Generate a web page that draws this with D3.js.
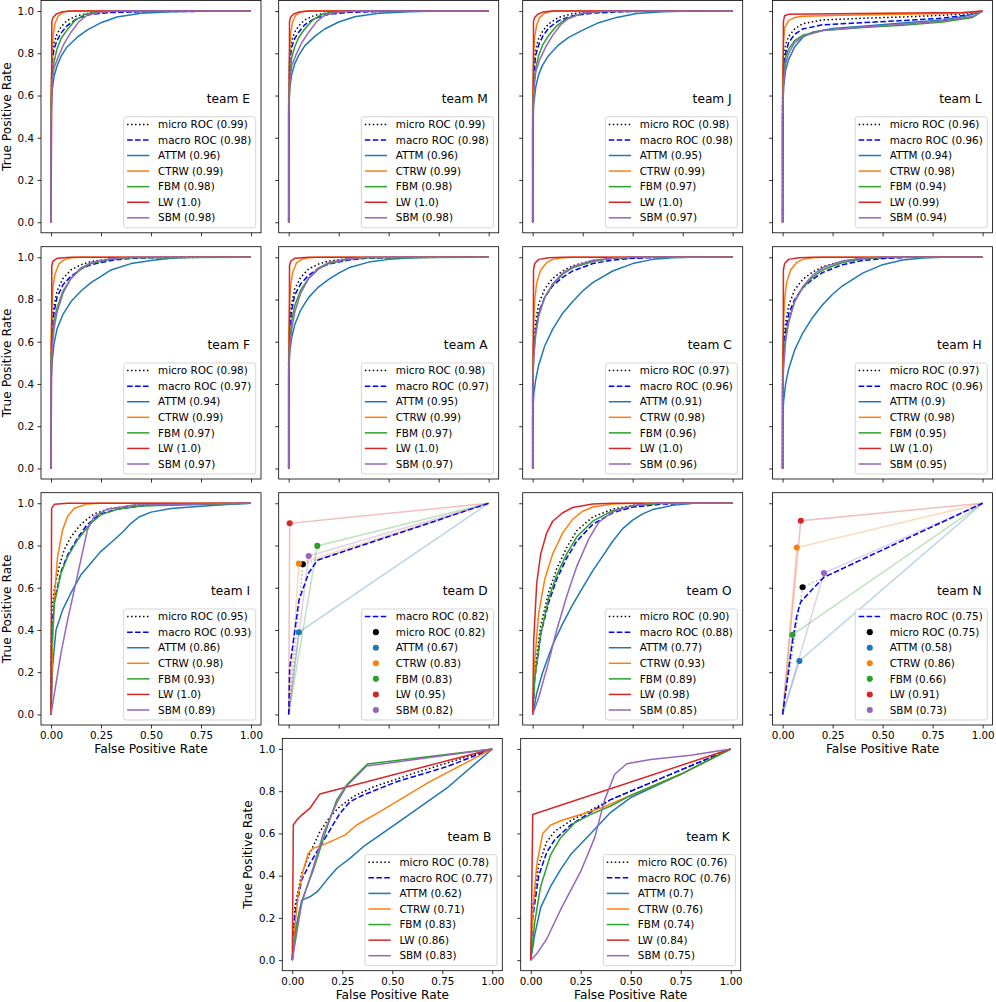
<!DOCTYPE html>
<html>
<head>
<meta charset="utf-8">
<script src="https://cdnjs.cloudflare.com/ajax/libs/d3/7.8.5/d3.min.js"></script>
<style>
  body { margin: 0; background: #fff; }
  text { font-family: "DejaVu Sans", sans-serif; }
</style>
</head>
<body>
<div id="chart"></div>
<script>
// classes and colours
var classes = ["ATTM", "CTRW", "FBM", "LW", "SBM"];
var classColors = ["#1f77b4", "#ff7f0e", "#2ca02c", "#d62728", "#9467bd"];
var xTicks = [0, 0.25, 0.5, 0.75, 1];
var yTicks = [0, 0.2, 0.4, 0.6, 0.8, 1];

// AUC values, order: micro, macro, ATTM, CTRW, FBM, LW, SBM
var aucE = [0.99, 0.98, 0.96, 0.99, 0.98, 1.0, 0.98];
var aucM = [0.99, 0.98, 0.96, 0.99, 0.98, 1.0, 0.98];
var aucJ = [0.98, 0.98, 0.95, 0.99, 0.97, 1.0, 0.97];
var aucL = [0.96, 0.96, 0.94, 0.98, 0.94, 0.99, 0.94];
var aucF = [0.98, 0.97, 0.94, 0.99, 0.97, 1.0, 0.97];
var aucA = [0.98, 0.97, 0.95, 0.99, 0.97, 1.0, 0.97];
var aucC = [0.97, 0.96, 0.91, 0.98, 0.96, 1.0, 0.96];
var aucH = [0.97, 0.96, 0.9, 0.98, 0.95, 1.0, 0.95];
var aucI = [0.95, 0.93, 0.86, 0.98, 0.93, 1.0, 0.89];
var aucD = [0.82, 0.82, 0.67, 0.83, 0.83, 0.95, 0.82];
var aucO = [0.90, 0.88, 0.77, 0.93, 0.89, 0.98, 0.85];
var aucN = [0.75, 0.75, 0.58, 0.86, 0.66, 0.91, 0.73];
var aucB = [0.78, 0.77, 0.62, 0.71, 0.83, 0.86, 0.83];
var aucK = [0.76, 0.76, 0.7, 0.76, 0.74, 0.84, 0.75];

// ROC curves [fpr, tpr], order: micro, macro, ATTM, CTRW, FBM, LW, SBM
var rocE = [
  [[0,0],[0,0.55],[0.005,0.78],[0.015,0.85],[0.03,0.89],[0.05,0.925],[0.08,0.955],[0.13,0.978],[0.2,0.992],[0.3,0.998],[1,1]],
  [[0,0],[0,0.5],[0.005,0.75],[0.015,0.82],[0.03,0.86],[0.05,0.895],[0.08,0.93],[0.13,0.965],[0.2,0.985],[0.3,0.993],[0.45,0.997],[1,1]],
  [[0,0],[0,0.5],[0.005,0.62],[0.015,0.69],[0.03,0.74],[0.05,0.785],[0.08,0.83],[0.13,0.875],[0.18,0.91],[0.25,0.945],[0.33,0.972],[0.45,0.99],[0.6,0.997],[0.75,1],[1,1]],
  [[0,0],[0,0.6],[0.005,0.8],[0.01,0.88],[0.02,0.94],[0.035,0.975],[0.06,0.995],[0.09,1],[1,1]],
  [[0,0],[0,0.55],[0.005,0.68],[0.015,0.76],[0.03,0.82],[0.05,0.87],[0.08,0.91],[0.12,0.955],[0.17,0.985],[0.25,0.998],[0.35,1],[1,1]],
  [[0,0],[0.003,0.5],[0.004,0.95],[0.01,0.97],[0.025,0.985],[0.05,0.995],[0.1,1],[1,1]],
  [[0,0],[0,0.45],[0.005,0.66],[0.015,0.73],[0.035,0.78],[0.065,0.845],[0.1,0.9],[0.14,0.95],[0.18,0.98],[0.25,0.996],[0.35,1],[1,1]]
];
var rocM = [
  [[0,0],[0,0.6],[0.005,0.79],[0.015,0.86],[0.03,0.9],[0.05,0.93],[0.08,0.958],[0.13,0.98],[0.2,0.993],[0.3,0.998],[1,1]],
  [[0,0],[0,0.55],[0.005,0.76],[0.015,0.83],[0.03,0.87],[0.05,0.9],[0.08,0.935],[0.13,0.965],[0.2,0.985],[0.3,0.994],[0.45,0.998],[1,1]],
  [[0,0],[0,0.52],[0.005,0.63],[0.015,0.7],[0.03,0.75],[0.05,0.79],[0.08,0.835],[0.13,0.88],[0.18,0.915],[0.25,0.948],[0.33,0.973],[0.45,0.99],[0.6,0.997],[0.75,1],[1,1]],
  [[0,0],[0,0.62],[0.005,0.82],[0.01,0.9],[0.02,0.95],[0.035,0.98],[0.06,0.996],[0.09,1],[1,1]],
  [[0,0],[0,0.56],[0.005,0.7],[0.015,0.78],[0.03,0.83],[0.05,0.875],[0.08,0.915],[0.12,0.958],[0.17,0.986],[0.25,0.998],[0.35,1],[1,1]],
  [[0,0],[0.003,0.5],[0.004,0.95],[0.01,0.972],[0.025,0.986],[0.05,0.995],[0.1,1],[1,1]],
  [[0,0],[0,0.5],[0.005,0.66],[0.015,0.74],[0.035,0.79],[0.065,0.85],[0.1,0.9],[0.14,0.95],[0.18,0.98],[0.25,0.996],[0.35,1],[1,1]]
];
var rocJ = [
  [[0,0],[0,0.55],[0.005,0.74],[0.015,0.82],[0.03,0.87],[0.05,0.905],[0.08,0.94],[0.13,0.97],[0.2,0.988],[0.3,0.996],[0.45,1],[1,1]],
  [[0,0],[0,0.5],[0.005,0.7],[0.015,0.79],[0.03,0.84],[0.05,0.88],[0.08,0.92],[0.13,0.955],[0.2,0.978],[0.3,0.99],[0.45,0.997],[0.6,1],[1,1]],
  [[0,0],[0,0.45],[0.005,0.56],[0.015,0.64],[0.03,0.7],[0.05,0.745],[0.08,0.79],[0.13,0.84],[0.18,0.875],[0.25,0.91],[0.33,0.945],[0.42,0.97],[0.52,0.988],[0.65,0.997],[0.8,1],[1,1]],
  [[0,0],[0,0.6],[0.005,0.8],[0.01,0.88],[0.02,0.935],[0.035,0.97],[0.06,0.99],[0.1,1],[1,1]],
  [[0,0],[0,0.5],[0.005,0.64],[0.015,0.73],[0.03,0.79],[0.05,0.84],[0.08,0.885],[0.12,0.93],[0.17,0.965],[0.25,0.99],[0.35,0.998],[1,1]],
  [[0,0],[0.003,0.5],[0.004,0.95],[0.01,0.97],[0.025,0.985],[0.05,0.995],[0.1,1],[1,1]],
  [[0,0],[0,0.45],[0.005,0.62],[0.015,0.71],[0.035,0.77],[0.065,0.83],[0.1,0.885],[0.14,0.935],[0.18,0.965],[0.25,0.99],[0.35,0.999],[1,1]]
];
var rocL = [
  [[0,0],[0,0.6],[0.005,0.76],[0.015,0.84],[0.03,0.88],[0.06,0.915],[0.1,0.94],[0.2,0.958],[0.4,0.966],[0.6,0.972],[0.8,0.98],[0.95,0.99],[1,1]],
  [[0,0],[0,0.55],[0.005,0.72],[0.015,0.8],[0.03,0.85],[0.06,0.89],[0.1,0.915],[0.2,0.935],[0.4,0.945],[0.6,0.955],[0.8,0.966],[0.95,0.985],[1,1]],
  [[0,0],[0,0.5],[0.005,0.64],[0.015,0.72],[0.03,0.77],[0.06,0.83],[0.1,0.875],[0.15,0.9],[0.25,0.918],[0.4,0.928],[0.6,0.943],[0.8,0.958],[0.9,0.973],[1,1]],
  [[0,0],[0,0.7],[0.005,0.86],[0.01,0.92],[0.03,0.955],[0.06,0.97],[0.1,0.975],[0.3,0.98],[0.6,0.985],[0.9,0.99],[1,1]],
  [[0,0],[0,0.55],[0.005,0.7],[0.015,0.78],[0.03,0.82],[0.06,0.86],[0.1,0.885],[0.2,0.908],[0.4,0.922],[0.6,0.933],[0.8,0.948],[0.95,0.97],[1,1]],
  [[0,0],[0.003,0.5],[0.004,0.95],[0.01,0.978],[0.03,0.985],[0.5,0.99],[0.9,0.993],[1,1]],
  [[0,0],[0,0.5],[0.005,0.66],[0.015,0.75],[0.03,0.8],[0.06,0.85],[0.1,0.88],[0.2,0.908],[0.4,0.924],[0.6,0.938],[0.8,0.953],[0.95,0.975],[1,1]]
];
var rocF = [
  [[0,0],[0,0.55],[0.005,0.68],[0.015,0.77],[0.03,0.84],[0.06,0.9],[0.1,0.94],[0.15,0.965],[0.2,0.98],[0.3,0.993],[0.5,0.999],[1,1]],
  [[0,0],[0,0.5],[0.005,0.65],[0.015,0.74],[0.03,0.81],[0.06,0.87],[0.1,0.91],[0.15,0.945],[0.2,0.965],[0.3,0.985],[0.4,0.995],[0.6,1],[1,1]],
  [[0,0],[0,0.4],[0.005,0.5],[0.015,0.59],[0.03,0.66],[0.06,0.73],[0.1,0.79],[0.15,0.84],[0.2,0.88],[0.25,0.91],[0.3,0.94],[0.4,0.97],[0.5,0.985],[0.6,0.995],[0.7,1],[1,1]],
  [[0,0],[0,0.6],[0.005,0.78],[0.01,0.86],[0.02,0.92],[0.04,0.97],[0.07,0.99],[0.1,0.998],[0.15,1],[1,1]],
  [[0,0],[0,0.5],[0.005,0.6],[0.015,0.7],[0.03,0.76],[0.06,0.84],[0.1,0.9],[0.15,0.945],[0.2,0.97],[0.3,0.99],[0.4,0.998],[1,1]],
  [[0,0],[0.003,0.5],[0.004,0.96],[0.01,0.982],[0.03,0.995],[0.1,1],[1,1]],
  [[0,0],[0,0.45],[0.005,0.56],[0.015,0.66],[0.03,0.74],[0.06,0.83],[0.1,0.9],[0.15,0.95],[0.2,0.975],[0.3,0.993],[0.4,1],[1,1]]
];
var rocA = [
  [[0,0],[0,0.55],[0.005,0.7],[0.015,0.78],[0.03,0.85],[0.06,0.905],[0.1,0.945],[0.15,0.968],[0.2,0.982],[0.3,0.994],[0.5,0.999],[1,1]],
  [[0,0],[0,0.5],[0.005,0.66],[0.015,0.75],[0.03,0.82],[0.06,0.875],[0.1,0.915],[0.15,0.948],[0.2,0.968],[0.3,0.987],[0.4,0.996],[0.6,1],[1,1]],
  [[0,0],[0,0.45],[0.005,0.55],[0.015,0.62],[0.03,0.68],[0.06,0.75],[0.1,0.81],[0.15,0.86],[0.2,0.895],[0.25,0.925],[0.3,0.95],[0.4,0.977],[0.5,0.99],[0.6,0.997],[0.7,1],[1,1]],
  [[0,0],[0,0.62],[0.005,0.8],[0.01,0.87],[0.02,0.93],[0.04,0.975],[0.07,0.992],[0.1,0.998],[0.15,1],[1,1]],
  [[0,0],[0,0.5],[0.005,0.61],[0.015,0.7],[0.03,0.77],[0.06,0.845],[0.1,0.9],[0.15,0.945],[0.2,0.97],[0.3,0.99],[0.4,0.998],[1,1]],
  [[0,0],[0.003,0.5],[0.004,0.96],[0.01,0.982],[0.03,0.995],[0.1,1],[1,1]],
  [[0,0],[0,0.45],[0.005,0.57],[0.015,0.66],[0.03,0.74],[0.06,0.83],[0.1,0.9],[0.15,0.95],[0.2,0.975],[0.3,0.993],[0.4,1],[1,1]]
];
var rocC = [
  [[0,0],[0,0.45],[0.005,0.6],[0.015,0.7],[0.03,0.78],[0.06,0.85],[0.1,0.9],[0.15,0.935],[0.2,0.96],[0.3,0.985],[0.4,0.995],[0.6,1],[1,1]],
  [[0,0],[0,0.4],[0.005,0.56],[0.015,0.66],[0.03,0.74],[0.06,0.81],[0.1,0.865],[0.15,0.905],[0.2,0.935],[0.3,0.97],[0.4,0.987],[0.5,0.995],[0.65,1],[1,1]],
  [[0,0],[0,0.25],[0.005,0.35],[0.015,0.42],[0.03,0.49],[0.06,0.58],[0.1,0.66],[0.15,0.735],[0.2,0.79],[0.25,0.84],[0.3,0.88],[0.4,0.935],[0.5,0.97],[0.6,0.99],[0.7,0.998],[0.8,1],[1,1]],
  [[0,0],[0,0.5],[0.005,0.7],[0.01,0.8],[0.02,0.88],[0.04,0.94],[0.07,0.975],[0.1,0.99],[0.15,0.998],[0.2,1],[1,1]],
  [[0,0],[0,0.4],[0.005,0.55],[0.015,0.65],[0.03,0.73],[0.06,0.81],[0.1,0.87],[0.15,0.92],[0.2,0.95],[0.3,0.98],[0.4,0.995],[0.5,1],[1,1]],
  [[0,0],[0.003,0.5],[0.004,0.94],[0.01,0.97],[0.03,0.99],[0.08,0.998],[0.15,1],[1,1]],
  [[0,0],[0,0.35],[0.005,0.52],[0.015,0.63],[0.03,0.72],[0.06,0.81],[0.1,0.875],[0.15,0.925],[0.2,0.955],[0.3,0.985],[0.4,0.997],[0.5,1],[1,1]]
];
var rocH = [
  [[0,0],[0,0.45],[0.005,0.6],[0.015,0.69],[0.03,0.77],[0.06,0.845],[0.1,0.895],[0.15,0.93],[0.2,0.955],[0.3,0.982],[0.4,0.994],[0.6,1],[1,1]],
  [[0,0],[0,0.4],[0.005,0.55],[0.015,0.65],[0.03,0.73],[0.06,0.8],[0.1,0.855],[0.15,0.895],[0.2,0.928],[0.3,0.965],[0.4,0.985],[0.5,0.994],[0.65,1],[1,1]],
  [[0,0],[0,0.22],[0.005,0.32],[0.015,0.4],[0.03,0.47],[0.06,0.56],[0.1,0.64],[0.15,0.715],[0.2,0.775],[0.25,0.825],[0.3,0.865],[0.4,0.925],[0.5,0.965],[0.6,0.987],[0.7,0.997],[0.8,1],[1,1]],
  [[0,0],[0,0.5],[0.005,0.7],[0.01,0.8],[0.02,0.88],[0.04,0.94],[0.07,0.975],[0.1,0.99],[0.15,0.998],[0.2,1],[1,1]],
  [[0,0],[0,0.38],[0.005,0.52],[0.015,0.62],[0.03,0.7],[0.06,0.79],[0.1,0.855],[0.15,0.905],[0.2,0.94],[0.3,0.975],[0.4,0.992],[0.5,1],[1,1]],
  [[0,0],[0.003,0.5],[0.004,0.94],[0.01,0.97],[0.03,0.99],[0.08,0.998],[0.15,1],[1,1]],
  [[0,0],[0,0.32],[0.005,0.48],[0.015,0.6],[0.03,0.69],[0.06,0.79],[0.1,0.86],[0.15,0.915],[0.2,0.95],[0.3,0.982],[0.4,0.996],[0.5,1],[1,1]]
];
var rocI = [
  [[0,0],[0.003,0.48],[0.017,0.6],[0.041,0.7],[0.066,0.78],[0.099,0.84],[0.149,0.9],[0.215,0.95],[0.298,0.975],[0.414,0.99],[0.58,0.997],[1,1]],
  [[0,0],[0.003,0.4],[0.017,0.54],[0.05,0.676],[0.083,0.755],[0.132,0.834],[0.182,0.9],[0.248,0.95],[0.331,0.972],[0.447,0.987],[0.58,0.995],[1,1]],
  [[0,0],[0.008,0.226],[0.025,0.4],[0.058,0.495],[0.099,0.574],[0.149,0.66],[0.199,0.716],[0.248,0.771],[0.315,0.826],[0.36,0.865],[0.4,0.905],[0.44,0.935],[0.5,0.958],[0.6,0.975],[0.75,0.986],[0.9,0.995],[1,1]],
  [[0,0],[0.008,0.32],[0.017,0.558],[0.033,0.747],[0.058,0.874],[0.083,0.937],[0.116,0.976],[0.182,0.997],[0.248,1],[1,1]],
  [[0,0],[0.003,0.32],[0.017,0.526],[0.05,0.668],[0.083,0.747],[0.132,0.826],[0.199,0.905],[0.248,0.945],[0.331,0.972],[0.447,0.987],[1,1]],
  [[0,0],[0.003,0.976],[0.017,0.995],[0.083,1],[1,1]],
  [[0,0],[0.017,0.1],[0.05,0.29],[0.083,0.447],[0.116,0.589],[0.149,0.731],[0.182,0.874],[0.215,0.937],[0.281,0.972],[0.414,0.992],[1,1]]
];
var rocO = [
  [[0,0],[0.01,0.2],[0.04,0.42],[0.08,0.58],[0.12,0.69],[0.17,0.79],[0.22,0.87],[0.3,0.935],[0.4,0.972],[0.5,0.99],[0.65,1],[1,1]],
  [[0,0],[0.01,0.17],[0.04,0.38],[0.08,0.53],[0.12,0.64],[0.17,0.74],[0.22,0.82],[0.3,0.9],[0.4,0.955],[0.5,0.982],[0.65,0.996],[0.8,1],[1,1]],
  [[0,0],[0.02,0.1],[0.05,0.2],[0.1,0.33],[0.15,0.43],[0.2,0.52],[0.25,0.6],[0.3,0.68],[0.35,0.75],[0.4,0.82],[0.45,0.88],[0.5,0.92],[0.55,0.95],[0.6,0.97],[0.7,0.99],[0.8,1],[1,1]],
  [[0,0],[0.01,0.25],[0.03,0.48],[0.06,0.64],[0.1,0.76],[0.15,0.86],[0.2,0.925],[0.25,0.962],[0.3,0.982],[0.4,0.996],[0.5,1],[1,1]],
  [[0,0],[0.01,0.17],[0.04,0.38],[0.08,0.55],[0.12,0.66],[0.17,0.76],[0.22,0.84],[0.3,0.915],[0.4,0.965],[0.5,0.988],[0.65,1],[1,1]],
  [[0,0],[0.005,0.35],[0.02,0.62],[0.04,0.76],[0.07,0.86],[0.1,0.915],[0.15,0.955],[0.2,0.98],[0.3,0.996],[0.4,1],[1,1]],
  [[0,0],[0.03,0.08],[0.08,0.25],[0.12,0.4],[0.17,0.56],[0.22,0.7],[0.28,0.83],[0.33,0.91],[0.4,0.96],[0.5,0.99],[0.6,1],[1,1]]
];
var rocB = [
  [[0,0],[0.013,0.253],[0.047,0.41],[0.088,0.506],[0.138,0.608],[0.188,0.679],[0.238,0.727],[0.305,0.774],[0.405,0.82],[0.605,0.884],[1,1]],
  [[0,0],[0.013,0.22],[0.047,0.38],[0.088,0.458],[0.138,0.537],[0.188,0.616],[0.238,0.695],[0.288,0.75],[0.355,0.782],[0.522,0.845],[0.772,0.916],[1,1]],
  [[0,0],[0.02,0.16],[0.047,0.284],[0.088,0.3],[0.125,0.324],[0.172,0.379],[0.222,0.434],[0.288,0.482],[0.355,0.537],[0.522,0.648],[0.772,0.814],[1,1]],
  [[0,0],[0.013,0.16],[0.03,0.316],[0.055,0.427],[0.08,0.506],[0.105,0.53],[0.138,0.54],[0.188,0.56],[0.263,0.592],[0.322,0.64],[0.438,0.703],[0.688,0.845],[1,1]],
  [[0,0],[0.02,0.16],[0.055,0.3],[0.105,0.427],[0.172,0.624],[0.222,0.758],[0.272,0.83],[0.375,0.929],[1,1]],
  [[0,0],[0.005,0.64],[0.022,0.663],[0.047,0.687],[0.088,0.719],[0.138,0.787],[1,1]],
  [[0,0],[0.005,0.03],[0.047,0.27],[0.105,0.44],[0.155,0.6],[0.222,0.743],[0.272,0.825],[0.372,0.919],[1,1]]
];
var rocK = [
  [[0,0],[0.01,0.25],[0.04,0.45],[0.08,0.56],[0.12,0.61],[0.2,0.66],[0.3,0.71],[0.4,0.76],[0.5,0.8],[0.75,0.9],[1,1]],
  [[0,0],[0.01,0.2],[0.04,0.4],[0.08,0.51],[0.12,0.57],[0.2,0.64],[0.3,0.7],[0.4,0.76],[0.5,0.8],[0.75,0.9],[1,1]],
  [[0,0],[0.02,0.12],[0.05,0.25],[0.1,0.35],[0.15,0.43],[0.2,0.5],[0.3,0.6],[0.4,0.7],[0.5,0.77],[0.75,0.88],[1,1]],
  [[0,0],[0.01,0.22],[0.03,0.45],[0.06,0.6],[0.1,0.64],[0.15,0.66],[0.25,0.69],[0.35,0.72],[0.5,0.78],[0.75,0.88],[1,1]],
  [[0,0],[0.02,0.18],[0.05,0.35],[0.1,0.5],[0.15,0.58],[0.22,0.65],[0.3,0.69],[0.4,0.73],[0.5,0.78],[0.75,0.88],[1,1]],
  [[0,0],[0.005,0.3],[0.01,0.69],[1,1]],
  [[0,0],[0.03,0.03],[0.08,0.1],[0.15,0.24],[0.25,0.42],[0.32,0.58],[0.37,0.76],[0.42,0.88],[0.48,0.93],[0.6,0.95],[0.8,0.97],[1,1]]
];

// single operating points [fpr, tpr], order: micro, ATTM, CTRW, FBM, LW, SBM
var pointsD = [[0.071,0.711],[0.051,0.389],[0.051,0.714],[0.143,0.798],[0.005,0.905],[0.1,0.75]];
var macroD = [[0,0],[0.005,0.22],[0.051,0.54],[0.1,0.67],[0.143,0.73],[1,1]];
var pointsN = [[0.1,0.602],[0.084,0.253],[0.071,0.79],[0.049,0.377],[0.091,0.917],[0.207,0.67]];
var macroN = [[0,0],[0.049,0.344],[0.071,0.468],[0.084,0.513],[0.091,0.534],[0.207,0.65],[1,1]];

// panel layout
var panelW = 220, panelH = 232.3;
var panels = [
  {team: "E", roc: rocE, auc: aucE, left: 41,    top: 0.5,   yLab: true,  xLab: false},
  {team: "M", roc: rocM, auc: aucM, left: 278.7, top: 0.5,   yLab: false, xLab: false},
  {team: "J", roc: rocJ, auc: aucJ, left: 522.7, top: 0.5,   yLab: false, xLab: false},
  {team: "L", roc: rocL, auc: aucL, left: 772.6, top: 0.5,   yLab: false, xLab: false},
  {team: "F", roc: rocF, auc: aucF, left: 41,    top: 246.7, yLab: true,  xLab: false},
  {team: "A", roc: rocA, auc: aucA, left: 278.7, top: 246.7, yLab: false, xLab: false},
  {team: "C", roc: rocC, auc: aucC, left: 522.7, top: 246.7, yLab: false, xLab: false},
  {team: "H", roc: rocH, auc: aucH, left: 772.6, top: 246.7, yLab: false, xLab: false},
  {team: "I", roc: rocI, auc: aucI, left: 41,    top: 492.7, yLab: true,  xLab: true},
  {team: "D", points: pointsD, macro: macroD, auc: aucD, left: 278.7, top: 492.7, yLab: false, xLab: false},
  {team: "O", roc: rocO, auc: aucO, left: 522.7, top: 492.7, yLab: false, xLab: false},
  {team: "N", points: pointsN, macro: macroN, auc: aucN, left: 772.6, top: 492.7, yLab: false, xLab: true},
  {team: "B", roc: rocB, auc: aucB, left: 282.3, top: 738.4, yLab: true,  xLab: true},
  {team: "K", roc: rocK, auc: aucK, left: 520.7, top: 738.4, yLab: false, xLab: true}
];

var svg = d3.select("#chart").append("svg")
    .attr("width", 996)
    .attr("height", 1002);

function fmtClass(v) {
  // matplotlib-style round(v, 2) printing
  return Math.abs(v * 10 - Math.round(v * 10)) < 1e-9 ? v.toFixed(1) : String(v);
}

var dotted = "1.5,2.48", dashed = "5.55,2.4";

function drawLegend(g, entries) {
  var rowH = 15.57, fs = 10.4;
  var lg = g.append("g");
  var box = lg.append("rect");
  var maxW = 0;
  entries.forEach(function(e, i) {
    var cy = 7.6 + i * rowH;
    if (e.type === "line") {
      lg.append("line")
        .attr("x1", 3.4).attr("x2", 25.7).attr("y1", cy).attr("y2", cy)
        .attr("stroke", e.color).attr("stroke-width", 1.5)
        .attr("stroke-dasharray", e.dash || null);
    } else {
      lg.append("circle").attr("cx", 14.5).attr("cy", cy).attr("r", 3.05).attr("fill", e.color);
    }
    var t = lg.append("text").attr("x", 34.4).attr("y", cy + 3.7)
      .attr("font-size", fs).attr("fill", "#000").text(e.label);
    maxW = Math.max(maxW, t.node().getComputedTextLength());
  });
  var w = 34.4 + maxW + 4.5, h = 7.6 + rowH * (entries.length - 1) + 10;
  box.attr("width", w).attr("height", h).attr("rx", 2.5)
    .attr("fill", "#fff").attr("fill-opacity", 0.8)
    .attr("stroke", "#cccccc").attr("stroke-width", 0.8);
  lg.attr("transform", "translate(" + (panelW - 5.3 - w) + "," + (panelH - 5 - h) + ")");
}

panels.forEach(function(p) {
  var g = svg.append("g").attr("transform", "translate(" + p.left + "," + p.top + ")");
  var x = d3.scaleLinear().domain([-0.05, 1.05]).range([0, panelW]);
  var y = d3.scaleLinear().domain([-0.05, 1.05]).range([panelH, 0]);

  var xAxis = d3.axisBottom(x).tickValues(xTicks).tickSizeInner(3.5).tickSizeOuter(0).tickPadding(3.5)
    .tickFormat(p.xLab ? d3.format(".2f") : function() { return ""; });
  var yAxis = d3.axisLeft(y).tickValues(yTicks).tickSizeInner(3.5).tickSizeOuter(0).tickPadding(3.5)
    .tickFormat(p.yLab ? d3.format(".1f") : function() { return ""; });

  var gx = g.append("g").attr("transform", "translate(0," + panelH + ")").call(xAxis);
  var gy = g.append("g").call(yAxis);
  [gx, gy].forEach(function(a) {
    a.select(".domain").remove();
    a.selectAll("line").attr("stroke", "#000").attr("stroke-width", 0.8);
    a.selectAll("text").attr("font-size", 10.3).attr("font-family", "DejaVu Sans").attr("fill", "#000");
  });

  var line = d3.line().x(function(d) { return x(d[0]); }).y(function(d) { return y(d[1]); });
  var entries = [];

  if (p.roc) {
    // micro, macro, then classes
    g.append("path").datum(p.roc[0]).attr("d", line).attr("fill", "none")
      .attr("stroke", "#000").attr("stroke-width", 1.5).attr("stroke-dasharray", dotted);
    g.append("path").datum(p.roc[1]).attr("d", line).attr("fill", "none")
      .attr("stroke", "#0000ff").attr("stroke-width", 1.5).attr("stroke-dasharray", dashed);
    classes.forEach(function(c, i) {
      g.append("path").datum(p.roc[i + 2]).attr("d", line).attr("fill", "none")
        .attr("stroke", classColors[i]).attr("stroke-width", 1.5).attr("stroke-linejoin", "round");
    });
    entries.push({type: "line", color: "#000", dash: dotted, label: "micro ROC (" + p.auc[0].toFixed(2) + ")"});
    entries.push({type: "line", color: "#0000ff", dash: dashed, label: "macro ROC (" + p.auc[1].toFixed(2) + ")"});
    classes.forEach(function(c, i) {
      entries.push({type: "line", color: classColors[i], label: c + " (" + fmtClass(p.auc[i + 2]) + ")"});
    });
  } else {
    // single threshold classifiers: light lines through one point
    var pts = p.points;
    var allColors = ["#000"].concat(classColors);
    pts.forEach(function(pt, i) {
      g.append("path").datum([[0, 0], pt, [1, 1]]).attr("d", line).attr("fill", "none")
        .attr("stroke", allColors[i]).attr("stroke-width", 1.5).attr("stroke-opacity", 0.3)
        .attr("stroke-dasharray", i === 0 ? dotted : null);
    });
    g.append("path").datum(p.macro).attr("d", line).attr("fill", "none")
      .attr("stroke", "#0000ff").attr("stroke-width", 1.5).attr("stroke-dasharray", dashed);
    g.selectAll("circle.pt").data(pts).join("circle").attr("class", "pt")
      .attr("cx", function(d) { return x(d[0]); })
      .attr("cy", function(d) { return y(d[1]); })
      .attr("r", 3.05)
      .attr("fill", function(d, i) { return allColors[i]; });
    entries.push({type: "line", color: "#0000ff", dash: dashed, label: "macro ROC (" + p.auc[1].toFixed(2) + ")"});
    entries.push({type: "dot", color: "#000", label: "micro ROC (" + p.auc[0].toFixed(2) + ")"});
    classes.forEach(function(c, i) {
      entries.push({type: "dot", color: classColors[i], label: c + " (" + fmtClass(p.auc[i + 2]) + ")"});
    });
  }

  // frame
  g.append("rect").attr("width", panelW).attr("height", panelH)
    .attr("fill", "none").attr("stroke", "#000").attr("stroke-width", 0.8);

  // team label
  g.append("text").attr("x", x(0.995)).attr("y", y(0.565))
    .attr("text-anchor", "end").attr("font-size", 12.2).attr("fill", "#000")
    .text("team " + p.team);

  drawLegend(g, entries);

  if (p.yLab) {
    g.append("text").attr("transform", "translate(-30," + (panelH / 2) + ") rotate(-90)")
      .attr("text-anchor", "middle").attr("font-size", 12.2).attr("fill", "#000")
      .text("True Positive Rate");
  }
  if (p.xLab) {
    g.append("text").attr("x", panelW / 2).attr("y", panelH + 28)
      .attr("text-anchor", "middle").attr("font-size", 12.2).attr("fill", "#000")
      .text("False Positive Rate");
  }
});
</script>
</body>
</html>
